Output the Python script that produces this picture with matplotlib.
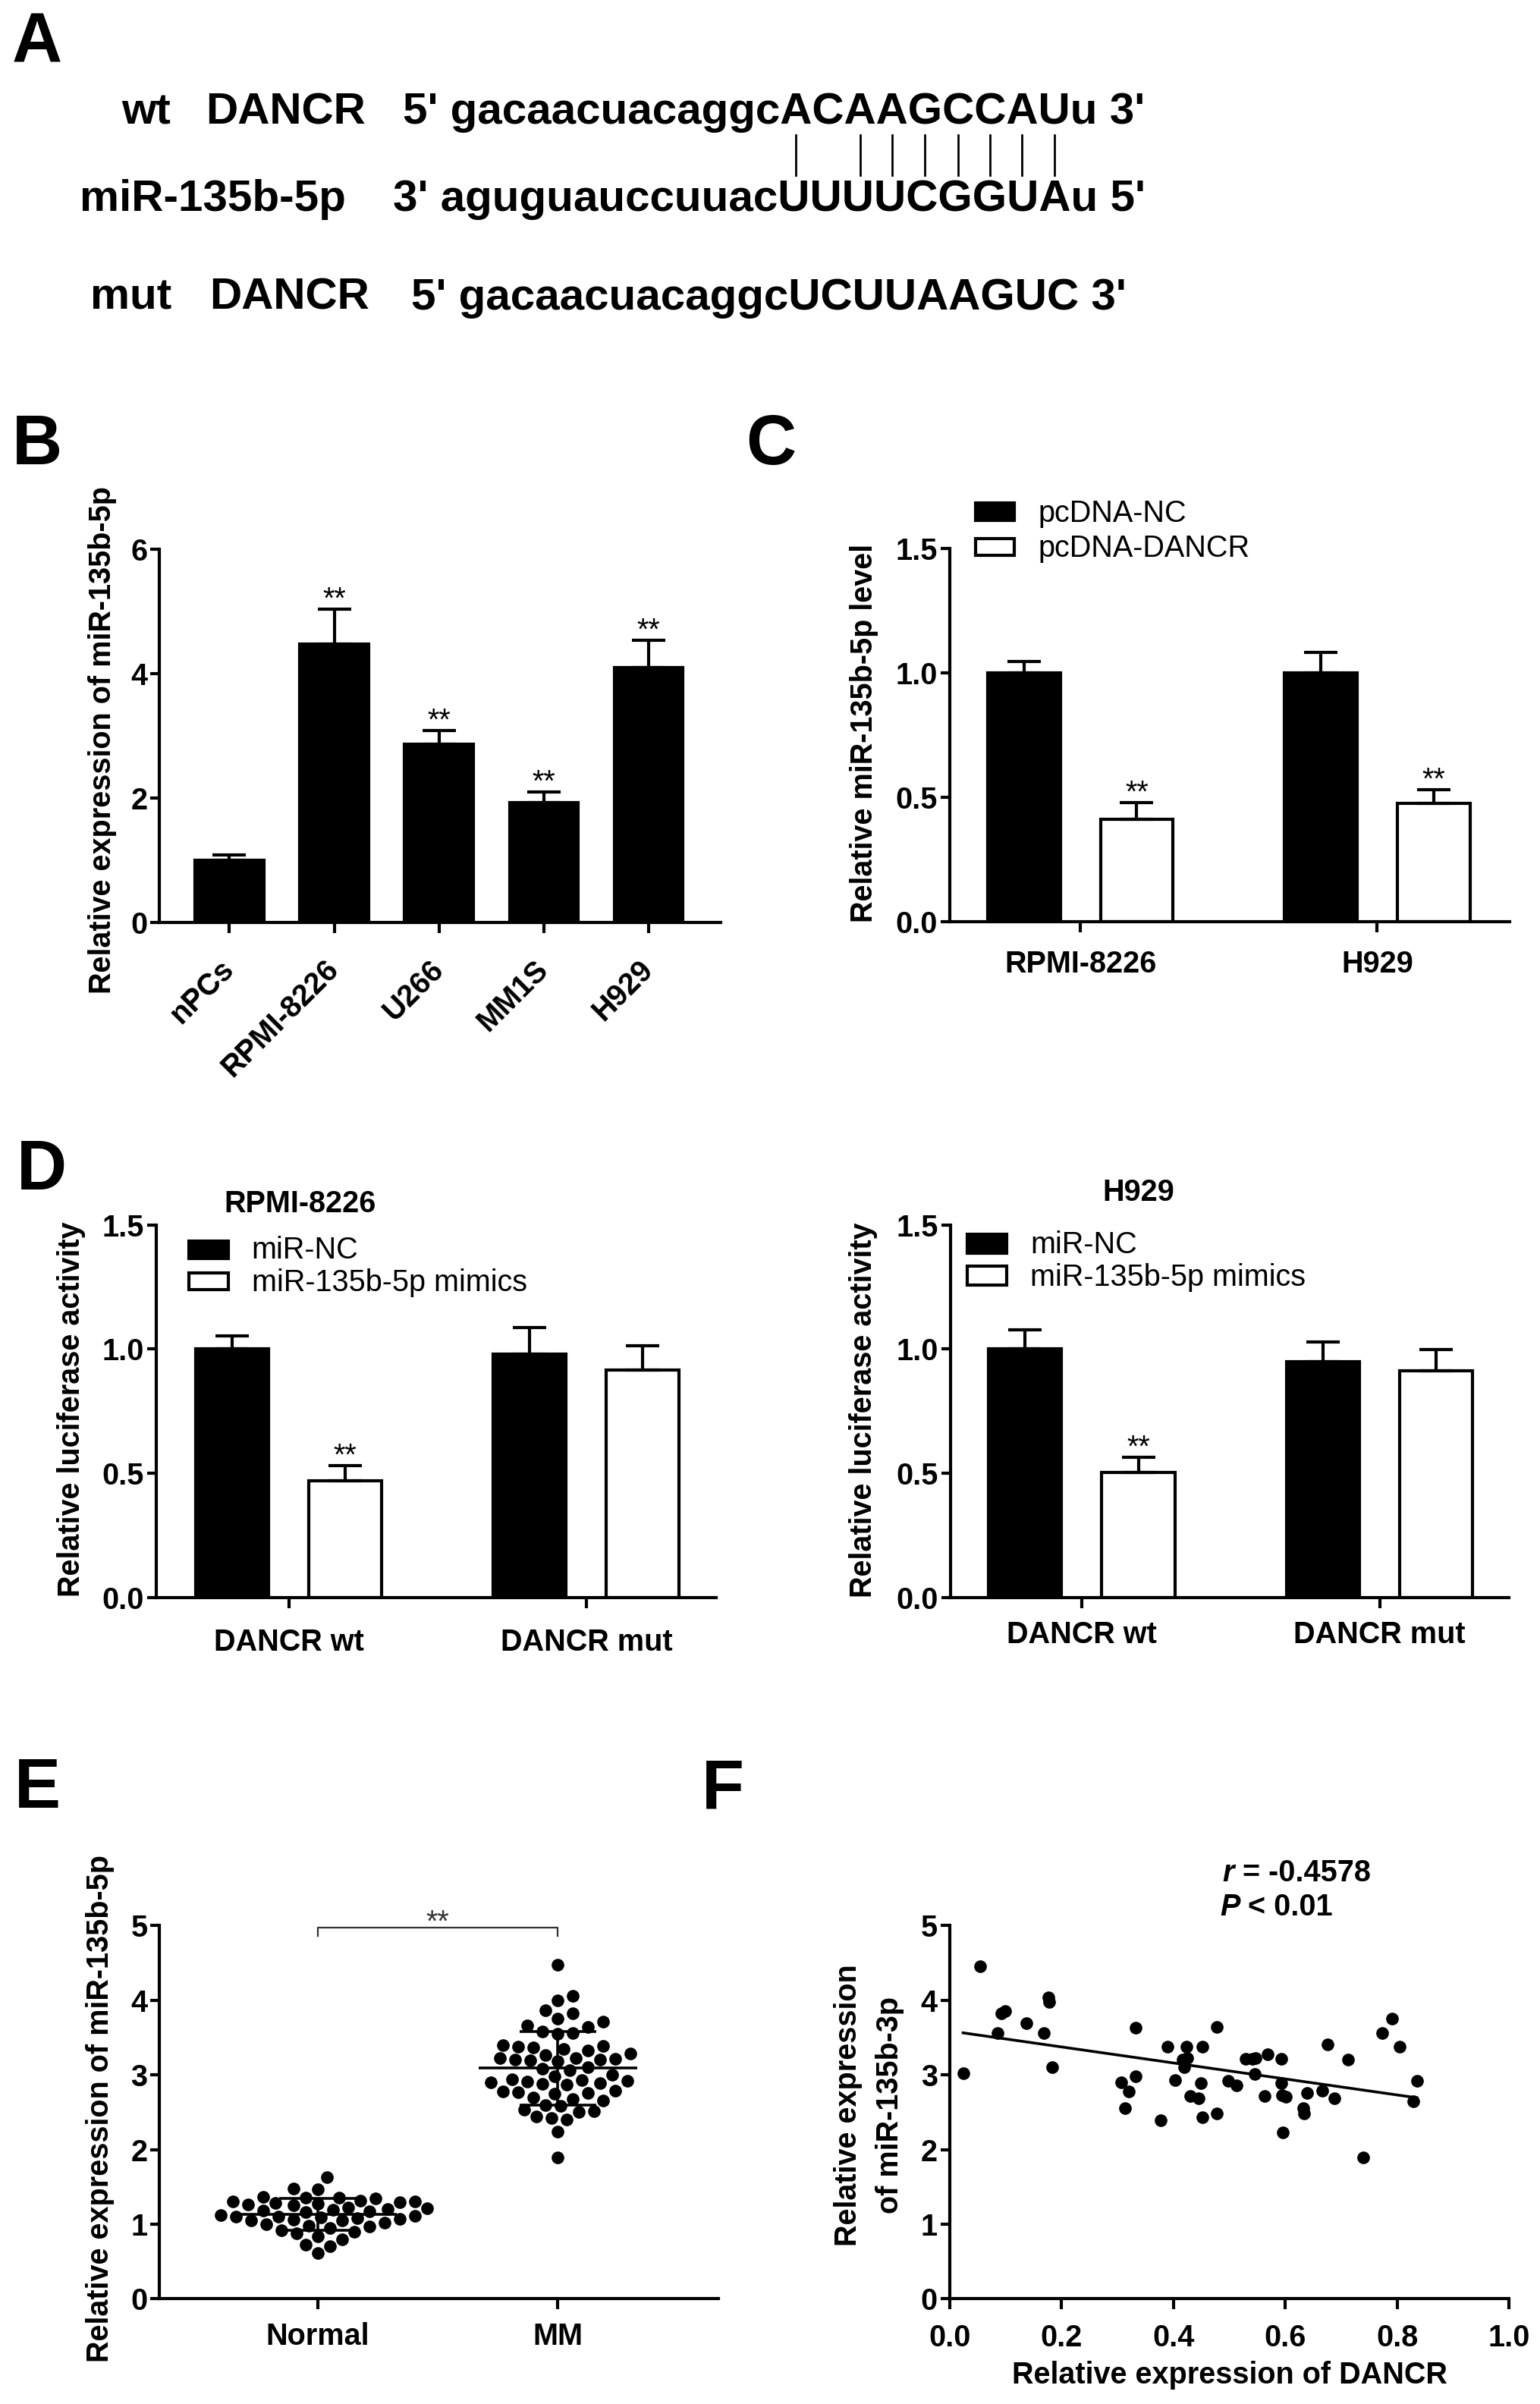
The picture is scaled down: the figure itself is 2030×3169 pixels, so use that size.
import numpy as np
import matplotlib
matplotlib.use("Agg")
import matplotlib.pyplot as plt
from matplotlib.patches import Rectangle
from matplotlib.lines import Line2D

plt.rcParams['font.family'] = ['Liberation Sans', 'DejaVu Sans']

# ---------------- data ----------------
# A: binding site
wt_seq = "5' gacaacuacaggcACAAGCCAUu 3'"
mir_seq = "3' aguguauccuuacUUUUCGGUAu 5'"
mut_seq = "5' gacaacuacaggcUCUUAAGUC 3'"
paired = [0, 2, 3, 4, 5, 6, 7, 8]   # paired letters in the capital block of wt

# B
b_cells = ["nPCs", "RPMI-8226", "U266", "MM1S", "H929"]
b_mean = [1.00, 4.48, 2.87, 1.93, 4.10]
b_sem = [0.09, 0.55, 0.21, 0.17, 0.43]
b_sig = ["", "**", "**", "**", "**"]

# C
c_cells = ["RPMI-8226", "H929"]
c_labels = ["pcDNA-NC", "pcDNA-DANCR"]
c_nc = [1.00, 1.00]
c_nc_sem = [0.046, 0.081]
c_dancr = [0.41, 0.475]
c_dancr_sem = [0.068, 0.054]
c_sig = ["**", "**"]

# D
d_groups = ["DANCR wt", "DANCR mut"]
d_labels = ["miR-NC", "miR-135b-5p mimics"]
d_rpmi_nc = [1.00, 0.98]
d_rpmi_nc_sem = [0.052, 0.106]
d_rpmi_mim = [0.47, 0.917]
d_rpmi_mim_sem = [0.062, 0.096]
d_h929_nc = [1.00, 0.948]
d_h929_nc_sem = [0.079, 0.081]
d_h929_mim = [0.504, 0.912]
d_h929_mim_sem = [0.060, 0.086]
d_sig = ["**", ""]

# E
e_groups = ["Normal", "MM"]
e_normal = [1.63, 1.48, 1.47, 1.37, 1.36, 1.36, 1.35,
            1.31, 1.30, 1.30, 1.29, 1.28, 1.27, 1.26, 1.25,
            1.22, 1.21, 1.20, 1.19, 1.18, 1.17, 1.16,
            1.12, 1.11, 1.10, 1.10, 1.09, 1.08, 1.07, 1.06, 1.05, 1.05,
            1.02, 1.00, 0.98, 0.97, 0.95, 0.92, 0.90, 0.88,
            0.84, 0.80, 0.73, 0.71, 0.61]
e_mm = [4.47, 4.06, 4.00, 3.86, 3.82, 3.75, 3.71, 3.66, 3.64,
        3.58, 3.56, 3.55, 3.40, 3.39, 3.38, 3.37, 3.35, 3.33,
        3.29, 3.27, 3.23, 3.22, 3.21, 3.20, 3.20, 3.19, 3.18,
        3.10, 3.08, 3.06, 3.00, 2.98,
        2.94, 2.93, 2.92, 2.91, 2.90, 2.89, 2.88, 2.87,
        2.79, 2.78, 2.77, 2.76, 2.75, 2.70, 2.68, 2.66,
        2.60, 2.58, 2.53, 2.51, 2.50, 2.44, 2.42, 2.40, 2.24, 1.89]

# F
f_dancr = [0.024, 0.055, 0.085, 0.093, 0.099, 0.137, 0.168, 0.177, 0.178, 0.183,
           0.306, 0.314, 0.320, 0.333, 0.333, 0.377, 0.389, 0.403, 0.416, 0.419,
           0.423, 0.425, 0.430, 0.445, 0.449, 0.452, 0.452, 0.477, 0.477, 0.498,
           0.512, 0.529, 0.541, 0.547, 0.545, 0.563, 0.568, 0.593, 0.593, 0.594,
           0.596, 0.601, 0.632, 0.633, 0.639, 0.666, 0.675, 0.688, 0.712, 0.739,
           0.773, 0.791, 0.804, 0.828, 0.835]
f_mir = [3.02, 4.45, 3.56, 3.82, 3.85, 3.69, 3.56, 4.04, 3.98, 3.10,
         2.90, 2.55, 2.78, 3.63, 2.98, 2.39, 3.38, 2.93, 3.20, 3.10,
         3.38, 3.23, 2.72, 2.69, 2.89, 3.38, 2.43, 3.64, 2.48, 2.92,
         2.86, 3.21, 3.21, 3.23, 3.01, 2.72, 3.28, 3.21, 2.89, 2.73,
         2.23, 2.71, 2.55, 2.48, 2.76, 2.79, 3.41, 2.69, 3.20, 1.89,
         3.56, 3.75, 3.38, 2.65, 2.92]
f_r = "-0.4578"
f_p = "0.01"

# ---------------- figure ----------------
W, H = 2031, 3169
fig = plt.figure(figsize=(W / 100, H / 100), dpi=100)
FS = 28.5      # normal text size
LW = 3.0       # axis / bar line width
CAP = 16       # error cap half width in points


def fx(x):
    return x / W


def fy(y):
    return 1 - y / H


def new_axes(left, top, right, bottom):
    return fig.add_axes([fx(left), fy(bottom), (right - left) / W, (bottom - top) / H])


def style(ax, xlim, ylim, yticks, yfmt, xpad):
    for s in ["top", "right"]:
        ax.spines[s].set_visible(False)
    for s in ["left", "bottom"]:
        ax.spines[s].set_linewidth(LW)
    ax.set_xlim(xlim)
    ax.set_ylim(ylim)
    ax.set_yticks(yticks, [yfmt.format(v) for v in yticks], fontweight="bold", fontsize=FS)
    ax.tick_params(axis="y", width=LW, length=8.6, pad=3)
    ax.tick_params(axis="x", width=LW, length=10, pad=xpad)


def label(x, y, s, **kw):
    kw.setdefault("fontsize", FS)
    kw.setdefault("fontweight", "bold")
    return fig.text(fx(x), fy(y), s, **kw)


def legend_box(x0, y0, x1, y1, color, text, tx, ty):
    fig.add_artist(Rectangle((fx(x0), fy(y1)), (x1 - x0) / W, (y1 - y0) / H,
                             facecolor=color, edgecolor="black", lw=LW,
                             transform=fig.transFigure))
    label(tx, ty, text, fontweight="normal", va="baseline")


def stars(ax, xs, tops, sig):
    for xi, t, s in zip(xs, tops, sig):
        if s:
            ax.annotate(s, (xi, t), xytext=(0, 1), textcoords="offset points",
                        ha="center", va="baseline", fontsize=FS)


def grouped(ax, nc, nc_sem, tr, tr_sem, sig, off=0.19, w=0.245):
    x = np.arange(len(nc))
    z = np.zeros(len(nc))
    ax.bar(x - off, nc, w, color="black", edgecolor="black", lw=LW, zorder=2)
    ax.bar(x + off, tr, w, color="white", edgecolor="black", lw=LW, zorder=2)
    ax.errorbar(x - off, nc, yerr=[z, nc_sem], fmt="none", ecolor="black",
                elinewidth=LW, capsize=CAP, capthick=LW, zorder=3)
    ax.errorbar(x + off, tr, yerr=[z, tr_sem], fmt="none", ecolor="black",
                elinewidth=LW, capsize=CAP, capthick=LW, zorder=3)
    stars(ax, x + off, np.add(tr, tr_sem), sig)
    return x


# ---------------- A ----------------
label(16, 82, "A", fontsize=66, va="baseline")
A_FS = 42
label(160, 163, "wt", fontsize=A_FS, va="baseline")
label(271, 163, "DANCR", fontsize=A_FS, va="baseline")
label(531, 163, wt_seq, fontsize=A_FS, va="baseline")
label(105, 278, "miR-135b-5p", fontsize=A_FS, va="baseline")
label(518, 278, mir_seq, fontsize=A_FS, va="baseline")
label(119, 408, "mut", fontsize=A_FS, va="baseline")
label(276, 408, "DANCR", fontsize=A_FS, va="baseline")
label(542, 408, mut_seq, fontsize=A_FS, va="baseline")

renderer = fig.canvas.get_renderer()


def width_px(s):
    t = fig.text(0, 0, s, fontsize=A_FS, fontweight="bold")
    w = t.get_window_extent(renderer).width
    t.remove()
    return w


cap0 = next(i for i, ch in enumerate(wt_seq) if ch.isupper())
for k in paired:
    xc = 531 + width_px(wt_seq[:cap0 + k]) + width_px(wt_seq[cap0 + k]) / 2
    fig.add_artist(Line2D([fx(xc), fx(xc)], [fy(178), fy(231)], color="black",
                          lw=2, transform=fig.transFigure))

# ---------------- B ----------------
label(16, 612, "B", fontsize=66, va="baseline")
axb = new_axes(210.5, 723.8, 950.3, 1216.3)
style(axb, (-0.665, 4.69), (0, 6), [0, 2, 4, 6], "{:.0f}", 30)
xb = np.arange(len(b_cells))
axb.bar(xb, b_mean, 0.656, color="black", edgecolor="black", lw=LW, zorder=2)
axb.errorbar(xb, b_mean, yerr=[np.zeros(len(xb)), b_sem], fmt="none", ecolor="black",
             elinewidth=LW, capsize=CAP, capthick=LW, zorder=3)
stars(axb, xb, np.add(b_mean, b_sem), b_sig)
axb.set_xticks(xb, b_cells, rotation=45, ha="right", va="center",
               rotation_mode="anchor", fontweight="bold", fontsize=FS)
label(135, 975, "Relative expression of miR-135b-5p", rotation=90, ha="center", va="center")

# ---------------- C ----------------
label(983, 612, "C", fontsize=66, va="baseline")
axc = new_axes(1251.8, 723.1, 1989.5, 1214.9)
style(axc, (-0.4405, 1.445), (0, 1.5), [0, 0.5, 1.0, 1.5], "{:.1f}", 17)
xc = grouped(axc, c_nc, c_nc_sem, c_dancr, c_dancr_sem, c_sig)
axc.set_xticks(xc, c_cells, fontweight="bold", fontsize=FS)
label(1139.4, 966, "Relative miR-135b-5p level", rotation=90, ha="center", va="center")
legend_box(1286, 663, 1336.6, 686, "black", c_labels[0], 1368, 688)
legend_box(1286, 710, 1336.6, 732, "white", c_labels[1], 1368, 734)

# ---------------- D ----------------
label(22, 1568, "D", fontsize=66, va="baseline")
axd1 = new_axes(206, 1614.8, 943.9, 2105.6)
style(axd1, (-0.445, 1.436), (0, 1.5), [0, 0.5, 1.0, 1.5], "{:.1f}", 19)
xd = grouped(axd1, d_rpmi_nc, d_rpmi_nc_sem, d_rpmi_mim, d_rpmi_mim_sem, d_sig)
axd1.set_xticks(xd, d_groups, fontweight="bold", fontsize=FS)
label(395.4, 1598, "RPMI-8226", ha="center", va="baseline")
label(94, 1858, "Relative luciferase activity", rotation=90, ha="center", va="center")
legend_box(248.7, 1636.2, 301, 1659.2, "black", d_labels[0], 331.6, 1659)
legend_box(248.7, 1678, 301, 1700, "white", d_labels[1], 331.6, 1702)

axd2 = new_axes(1253.1, 1614.8, 1989.5, 2105.6)
style(axd2, (-0.44, 1.435), (0, 1.5), [0, 0.5, 1.0, 1.5], "{:.1f}", 12)
xd = grouped(axd2, d_h929_nc, d_h929_nc_sem, d_h929_mim, d_h929_mim_sem, d_sig)
axd2.set_xticks(xd, d_groups, fontweight="bold", fontsize=FS)
label(1501, 1582.7, "H929", ha="center", va="baseline")
label(1138, 1859, "Relative luciferase activity", rotation=90, ha="center", va="center")
legend_box(1274.8, 1627, 1326.8, 1651.5, "black", d_labels[0], 1358.3, 1651.5)
legend_box(1274.8, 1669.4, 1326.8, 1693.9, "white", d_labels[1], 1358.3, 1695)

# ---------------- E ----------------
label(19, 2383, "E", fontsize=66, va="baseline")
axe = new_axes(210.5, 2538.3, 947, 3030.4)
style(axe, (-0.659, 1.669), (0, 5), [0, 1, 2, 3, 4, 5], "{:.0f}", 12)
axe.set_xticks([0, 1], e_groups, fontweight="bold", fontsize=FS)
label(132, 2780, "Relative expression of miR-135b-5p", rotation=90, ha="center", va="center")

# pixel scale of the data axes, used to lay out the swarm without overlap
p0 = axe.transData.transform((0, 0))
p1 = axe.transData.transform((1, 1))
ppu_x, ppu_y = p1[0] - p0[0], p1[1] - p0[1]
DIAM = 18.0
STEP = 4.0


def swarm(vals):
    vals = np.asarray(vals)
    offs = np.zeros(len(vals))
    placed = []
    cands = [0.0] + [s * j * STEP for j in range(1, 60) for s in (1, -1)]
    for i in np.argsort(vals):
        y = vals[i] * ppu_y
        for c in cands:
            if all((c - px) ** 2 + (y - py) ** 2 >= DIAM ** 2 for px, py in placed):
                break
        placed.append((c, y))
        offs[i] = c / ppu_x
    return offs


for gi, vals in enumerate([e_normal, e_mm]):
    axe.plot(gi + swarm(vals), vals, "o", color="black", ms=12, mew=0, zorder=2, clip_on=False)
    m = np.mean(vals)
    sd = np.std(vals, ddof=1)
    axe.hlines(m, gi - 0.33, gi + 0.33, color="black", lw=2.6, zorder=3)
    axe.hlines([m - sd, m + sd], gi - 0.16, gi + 0.16, color="black", lw=2.6, zorder=3)
    axe.vlines(gi, m - sd, m + sd, color="black", lw=2.6, zorder=3)

axe.plot([0, 0, 1, 1], [4.86, 4.97, 4.97, 4.86], color="#333333", lw=1.6, clip_on=False)
axe.annotate("**", (0.5, 4.97), xytext=(0, -3), textcoords="offset points",
             ha="center", va="baseline", fontsize=FS, color="#333333")

# ---------------- F ----------------
label(925, 2383, "F", fontsize=66, va="baseline")
axf = new_axes(1251.8, 2538.3, 1989.5, 3030.4)
style(axf, (0, 1), (0, 5), [0, 1, 2, 3, 4, 5], "{:.0f}", 13.5)
xt = [0, 0.2, 0.4, 0.6, 0.8, 1.0]
axf.set_xticks(xt, ["{:.1f}".format(v) for v in xt], fontweight="bold", fontsize=FS)
axf.plot(f_dancr, f_mir, "o", color="black", ms=12, mew=0, zorder=2)
slope, icpt = np.polyfit(f_dancr, f_mir, 1)
xl = np.array([min(f_dancr), max(f_dancr)])
axf.plot(xl, slope * xl + icpt, color="black", lw=2.6, zorder=3)
label(1118, 2775, "Relative expression", rotation=90, ha="center", va="center")
label(1173, 2775, "of miR-135b-3p", rotation=90, ha="center", va="center")
label(1621, 3131, "Relative expression of DANCR", ha="center", va="center")

t_r = label(1611.5, 2480.5, "r", style="italic", va="baseline")
axf.annotate(" = " + f_r, xy=(1, 0), xycoords=t_r, ha="left", va="bottom",
             fontsize=FS, fontweight="bold")
t_p = label(1608, 2525, "P", style="italic", va="baseline")
axf.annotate(" < " + f_p, xy=(1, 0), xycoords=t_p, ha="left", va="bottom",
             fontsize=FS, fontweight="bold")

fig.savefig("out.png", dpi=100)
